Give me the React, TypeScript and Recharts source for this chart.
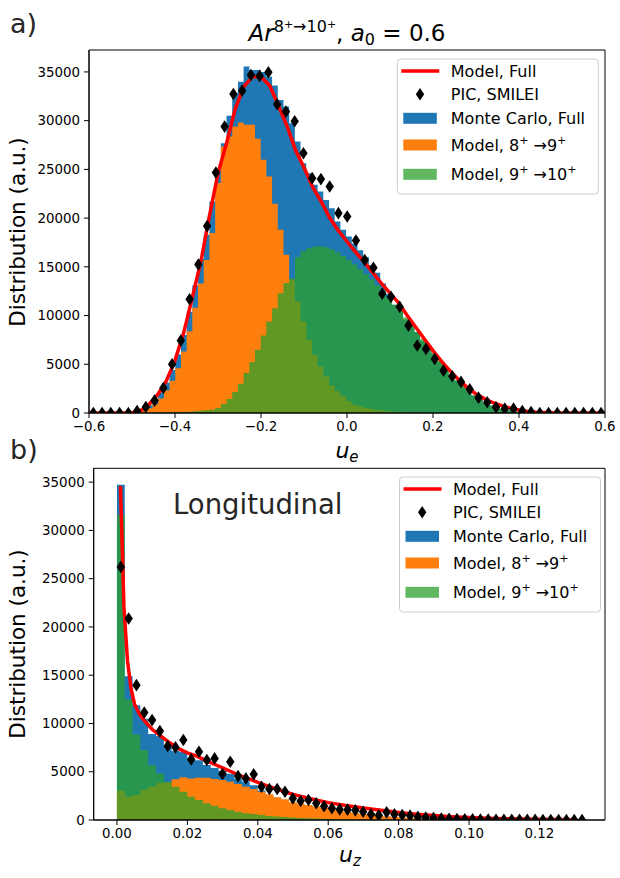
import React from 'react';
import { ComposedChart, Area, Line, Scatter, XAxis, YAxis, ReferenceArea } from 'recharts';

const FONT = '"DejaVu Sans", sans-serif';
const BLUE = '#1f77b4';
const ORANGE = '#ff7f0e';
const GREEN = '#2ca02c';
const RED = '#ff0000';
const TEXT = '#262626';

const Y_TICKS = [0, 5000, 10000, 15000, 20000, 25000, 30000, 35000];

// ---- panel a: u_e ----
const A_X_TICKS = [-0.6, -0.4, -0.2, 0, 0.2, 0.4, 0.6];
const A_BIN_START = -0.492;
const A_BIN_WIDTH = 0.01324;
const A_MC_FULL = [
  200, 420, 800, 1350, 2100, 3100, 4400, 6000, 8000, 10400,
  13100, 15800, 18290, 21710, 24950, 27690, 30500, 32800, 34000, 35550,
  35200, 35200, 35000, 34500, 33600, 32130, 31440, 29740, 27850, 25640,
  24610, 23410, 22730, 21870, 21020, 19650, 18800, 18110, 17400, 16700,
  16000, 15200, 14400, 13300, 12200, 11100, 10500, 9600, 9000, 8300,
  7400, 6900, 6100, 5250, 4700, 4000, 3300, 2800, 2300, 1800,
  1400, 1050, 780, 560, 400, 270, 170, 100, 60, 30,
  15,
];
const A_MODEL_89 = [
  100, 250, 500, 900, 1500, 2300, 3300, 4600, 6300, 8400,
  10800, 13300, 15700, 18460, 23590, 27340, 28370, 29390, 29800, 29570,
  29570, 28130, 25980, 24260, 21460, 18800, 16230, 13700, 11440, 9390,
  7520, 5980, 4780, 3750, 2830, 2220, 1710, 1200, 850, 680,
  520, 400, 320, 250, 190, 150, 110, 80, 60, 45,
  30, 20, 15, 10, 5, 0, 0, 0, 0, 0,
  0, 0, 0, 0, 0, 0, 0, 0, 0, 0,
  0,
];
const A_MODEL_910 = [
  20, 25, 30, 40, 50, 55, 65, 80, 100, 130,
  170, 220, 280, 340, 510, 920, 1430, 2150, 3000, 4100,
  5230, 6490, 7960, 9390, 10760, 12300, 13330, 13800, 16000, 16600,
  16900, 17050, 17100, 17000, 16800, 16500, 16100, 15700, 15250, 14750,
  14250, 13700, 13100, 12500, 11800, 11100, 10500, 9800, 9000, 8300,
  7600, 6900, 6100, 5400, 4700, 4000, 3400, 2800, 2300, 1800,
  1400, 1050, 780, 560, 400, 270, 170, 100, 60, 30,
  15,
];
const A_MODEL_START = -0.6;
const A_MODEL_STEP = 0.02;
const A_MODEL_FULL = [
  0, 0, 0, 0, 0, 30, 250, 900, 1900, 3300,
  5400, 8200, 11800, 15500, 20200, 24600, 27700, 31200, 33500, 34500,
  34500, 33600, 31600, 29500, 27000, 25200, 23200, 21700, 20000, 18700,
  17600, 16500, 15500, 14400, 13300, 12300, 11300, 10000, 8800, 7600,
  6400, 5300, 4300, 3400, 2600, 1950, 1450, 1050, 750, 500,
  300, 160, 80, 40, 15, 0, 0, 0, 0, 0,
  0,
];
const A_PIC_START = -0.59;
const A_PIC_STEP = 0.02036;
const A_PIC = [
  0, 0, 0, 0, 0, 200, 620, 1270, 2570, 5000,
  7430, 11680, 15240, 19180, 24670, 29390, 32740, 33080, 34690, 34590,
  34970, 31690, 30930, 29940, 26660, 24100, 24000, 23240, 20510, 20160,
  17700, 15700, 14900, 12230, 11920, 10890, 8970, 6920, 6580, 5550,
  4350, 3770, 3190, 2430, 1575, 1100, 580, 445, 445, 200,
  100, 0, 0, 0, 0, 0, 0, 0, 0,
];

// ---- panel b: u_z ----
const B_X_TICKS = [0, 0.02, 0.04, 0.06, 0.08, 0.1, 0.12];
const B_BIN_START = 0;
const B_BIN_WIDTH = 0.00222;
const B_MC_FULL = [
  34740, 14900, 11900, 10500, 8900, 8700, 7600, 7150, 7050, 6400,
  6200, 5700, 5400, 5100, 4800, 4300, 4000, 3600, 3050, 2600,
  2300, 2080, 1780, 1650, 1500, 1360, 1210, 1060, 920, 800,
  680, 580, 490, 420, 350, 290, 240, 195, 160, 130,
  105, 88, 72, 58, 48, 38, 33, 28, 23, 19,
  14, 11, 9, 7, 5, 4, 3, 2, 1, 1,
];
const B_MODEL_89 = [
  3040, 2420, 2590, 3100, 3450, 3800, 3900, 4210, 4420, 4310,
  4380, 4380, 4250, 4140, 3970, 3730, 3450, 3210, 2930, 2660,
  2350, 2140, 1830, 1700, 1550, 1400, 1250, 1100, 950, 820,
  700, 600, 510, 430, 360, 300, 250, 200, 165, 135,
  110, 90, 75, 60, 50, 40, 35, 30, 25, 20,
  15, 12, 10, 8, 6, 4, 3, 2, 1, 1,
];
const B_MODEL_910 = [
  31570, 12490, 8870, 7245, 5690, 4830, 3970, 3450, 2930, 2420,
  2070, 1730, 1480, 1210, 1040, 860, 690, 620, 520, 410,
  350, 300, 250, 210, 180, 150, 125, 105, 90, 75,
  60, 50, 40, 32, 25, 20, 15, 12, 10, 8,
  6, 5, 4, 3, 3, 2, 2, 1, 1, 1,
  0, 0, 0, 0, 0, 0, 0, 0, 0, 0,
];
const B_MODEL_X = [
  0.001, 0.002, 0.003, 0.004, 0.005, 0.0065, 0.008, 0.01, 0.0125, 0.015,
  0.0175, 0.02, 0.0225, 0.025, 0.0275, 0.03, 0.0325, 0.035, 0.0375, 0.04,
  0.0425, 0.045, 0.0475, 0.05, 0.055, 0.06, 0.065, 0.07, 0.075, 0.08,
  0.085, 0.09, 0.095, 0.1, 0.105, 0.11, 0.115, 0.12, 0.125, 0.13,
];
const B_MODEL_FULL = [
  34600, 22000, 16500, 13600, 12000, 10900, 10200, 9400, 8700, 8000,
  7400, 6950, 6650, 6200, 5800, 5400, 5000, 4600, 4250, 3900,
  3550, 3250, 2950, 2650, 2200, 1800, 1500, 1250, 1000, 780,
  600, 460, 350, 260, 190, 140, 100, 70, 50, 30,
];
const B_PIC_START = 0.0011;
const B_PIC_STEP = 0.00222;
const B_PIC = [
  26220, 20870, 13970, 11140, 10350, 9210, 7660, 7520, 8280, 6280,
  7070, 6210, 6380, 4760, 6040, 4550, 4310, 4730, 3450, 3210,
  3210, 2930, 2240, 1970, 2070, 1730, 1420, 1210, 1100, 1070,
  1000, 860, 590, 480, 790, 590, 520, 450, 320, 260,
  200, 150, 120, 100, 80, 60, 50, 40, 30, 25,
  20, 15, 10, 10, 5, 5, 0, 0, 0, 0,
];

type Pt = { x: number; y: number };

// histogram bins -> stepAfter points, closing the last bin at its right edge
const toSteps = (start: number, width: number, values: number[]): Pt[] => {
  const pts = values.map((v, k) => ({ x: start + width * k, y: v }));
  pts.push({ x: start + width * values.length, y: values[values.length - 1] });
  return pts;
};
const onGrid = (start: number, step: number, values: number[]): Pt[] =>
  values.map((v, i) => ({ x: start + step * i, y: v }));
const zip = (xs: number[], ys: number[]): Pt[] => xs.map((x, i) => ({ x, y: ys[i] }));

const Diamond = (props: any) => {
  const { cx, cy } = props;
  if (typeof cx !== 'number' || typeof cy !== 'number') return <g />;
  return <path d={`M${cx},${cy - 6.3}L${cx + 4.2},${cy}L${cx},${cy + 6.3}L${cx - 4.2},${cy}Z`} fill="#000" />;
};

const minus = (s: string) => s.replace('-', '\u2212');
const tickStyle = { fill: '#000', fontSize: 13.4, fontFamily: FONT };

interface PanelProps {
  top: number;
  height: number;
  margin: { top: number; right: number; bottom: number; left: number };
  xAxisHeight: number;
  xDomain: [number, number];
  xTicks: number[];
  xDigits: number;
  yMax: number;
  mc: Pt[];
  m89: Pt[];
  m910: Pt[];
  model: Pt[];
  pic: Pt[];
}

function Panel(p: PanelProps) {
  return (
    <div style={{ position: 'absolute', left: 0, top: p.top }}>
      <ComposedChart width={620} height={p.height} margin={p.margin}>
        <XAxis
          type="number"
          dataKey="x"
          domain={p.xDomain}
          ticks={p.xTicks}
          tickFormatter={(v: number) => minus(v.toFixed(p.xDigits))}
          allowDataOverflow
          height={p.xAxisHeight}
          tick={tickStyle}
          tickSize={5}
          tickMargin={3}
          tickLine={{ stroke: '#000' }}
          axisLine={{ stroke: '#000' }}
        />
        <YAxis
          type="number"
          dataKey="y"
          domain={[0, p.yMax]}
          ticks={Y_TICKS}
          allowDataOverflow
          width={60}
          tick={tickStyle}
          tickSize={5}
          tickMargin={4}
          tickLine={{ stroke: '#000' }}
          axisLine={{ stroke: '#000' }}
        />
        <Area data={p.mc} dataKey="y" type="stepAfter" fill={BLUE} fillOpacity={1} stroke="none" dot={false} activeDot={false} isAnimationActive={false} />
        <Area data={p.m89} dataKey="y" type="stepAfter" fill={ORANGE} fillOpacity={1} stroke="none" dot={false} activeDot={false} isAnimationActive={false} />
        <Area data={p.m910} dataKey="y" type="stepAfter" fill={GREEN} fillOpacity={0.75} stroke="none" dot={false} activeDot={false} isAnimationActive={false} />
        <Line data={p.model} dataKey="y" type="linear" stroke={RED} strokeWidth={3.5} strokeLinejoin="round" dot={false} activeDot={false} isAnimationActive={false} />
        <Scatter data={p.pic} dataKey="y" shape={<Diamond />} isAnimationActive={false} />
        <ReferenceArea x1={p.xDomain[0]} x2={p.xDomain[1]} y1={0} y2={p.yMax} fill="none" stroke="#000" strokeWidth={1} ifOverflow="visible" />
      </ComposedChart>
    </div>
  );
}

function Legend({ left, top }: { left: number; top: number }) {
  const tx = left + 53.5;
  const rows = [12, 35.3, 59.3, 86, 115.3].map((c) => top + c);
  const base = (c: number) => c + 5.6;
  const patch = (c: number, color: string, op = 1) => (
    <rect x={left + 6} y={c - 5.5} width={33.5} height={11} fill={color} fillOpacity={op} />
  );
  return (
    <g fontSize={16} fill="#000">
      <rect x={left} y={top} width={201} height={135} rx={3.5} fill="#fff" fillOpacity={0.8} stroke="#cccccc" strokeWidth={1} />
      <line x1={left + 4} x2={left + 42} y1={rows[0]} y2={rows[0]} stroke={RED} strokeWidth={3.5} />
      <text x={tx} y={base(rows[0])}>Model, Full</text>
      <Diamond cx={left + 22.7} cy={rows[1]} />
      <text x={tx} y={base(rows[1])}>PIC, SMILEI</text>
      {patch(rows[2], BLUE)}
      <text x={tx} y={base(rows[2])}>Monte Carlo, Full</text>
      {patch(rows[3], ORANGE)}
      <text x={tx} y={base(rows[3])}>
        Model, 8<tspan dy={-7} fontSize={11}>+</tspan>
        <tspan dy={7}> →9</tspan>
        <tspan dy={-7} fontSize={11}>+</tspan>
      </text>
      {patch(rows[4], GREEN, 0.75)}
      <text x={tx} y={base(rows[4])}>
        Model, 9<tspan dy={-7} fontSize={11}>+</tspan>
        <tspan dy={7}> →10</tspan>
        <tspan dy={-7} fontSize={11}>+</tspan>
      </text>
    </g>
  );
}

export default function App() {
  return (
    <div style={{ position: 'absolute', left: 0, top: 0, width: 620, height: 878, background: '#fff', fontFamily: FONT }}>
      <Panel
        top={0}
        height={440}
        margin={{ top: 50, right: 15, bottom: 2, left: 29 }}
        xAxisHeight={25}
        xDomain={[-0.6, 0.6]}
        xTicks={A_X_TICKS}
        xDigits={1}
        yMax={37250}
        mc={toSteps(A_BIN_START, A_BIN_WIDTH, A_MC_FULL)}
        m89={toSteps(A_BIN_START, A_BIN_WIDTH, A_MODEL_89)}
        m910={toSteps(A_BIN_START, A_BIN_WIDTH, A_MODEL_910)}
        model={onGrid(A_MODEL_START, A_MODEL_STEP, A_MODEL_FULL)}
        pic={onGrid(A_PIC_START, A_PIC_STEP, A_PIC)}
      />
      <Panel
        top={440}
        height={410}
        margin={{ top: 28.3, right: 15, bottom: 2, left: 33.7 }}
        xAxisHeight={28}
        xDomain={[-0.0066, 0.1386]}
        xTicks={B_X_TICKS}
        xDigits={2}
        yMax={36435}
        mc={toSteps(B_BIN_START, B_BIN_WIDTH, B_MC_FULL)}
        m89={toSteps(B_BIN_START, B_BIN_WIDTH, B_MODEL_89)}
        m910={toSteps(B_BIN_START, B_BIN_WIDTH, B_MODEL_910)}
        model={zip(B_MODEL_X, B_MODEL_FULL)}
        pic={onGrid(B_PIC_START, B_PIC_STEP, B_PIC)}
      />
      <svg width={620} height={878} style={{ position: 'absolute', left: 0, top: 0, pointerEvents: 'none' }} fontFamily={FONT}>
        <text x={10} y={33} fontSize={27} fill={TEXT}>a)</text>
        <text x={10} y={459} fontSize={27} fill={TEXT}>b)</text>
        <text x={347} y={41} fontSize={23} textAnchor="middle" fill="#000">
          <tspan fontStyle="italic">Ar</tspan>
          <tspan dy={-9} fontSize={16}>8</tspan>
          <tspan dy={-4} fontSize={11}>+</tspan>
          <tspan dy={4} fontSize={16}>→10</tspan>
          <tspan dy={-4} fontSize={11}>+</tspan>
          <tspan dy={13}>, </tspan>
          <tspan fontStyle="italic">a</tspan>
          <tspan dy={4} fontSize={16}>0</tspan>
          <tspan dy={-4}> = 0.6</tspan>
        </text>
        <text x={347} y={458} fontSize={22} textAnchor="middle" fill="#000">
          <tspan fontStyle="italic">u</tspan>
          <tspan dy={4} fontSize={15} fontStyle="italic">e</tspan>
        </text>
        <text x={350} y={862} fontSize={22} textAnchor="middle" fill="#000">
          <tspan fontStyle="italic">u</tspan>
          <tspan dy={4} fontSize={15} fontStyle="italic">z</tspan>
        </text>
        <text transform="translate(25,232) rotate(-90)" fontSize={21.5} textAnchor="middle" fill="#000">Distribution (a.u.)</text>
        <text transform="translate(25,644) rotate(-90)" fontSize={21.5} textAnchor="middle" fill="#000">Distribution (a.u.)</text>
        <text x={173} y={514} fontSize={27.5} fill={TEXT}>Longitudinal</text>
        <Legend left={397.3} top={59} />
        <Legend left={399.5} top={477} />
      </svg>
    </div>
  );
}
